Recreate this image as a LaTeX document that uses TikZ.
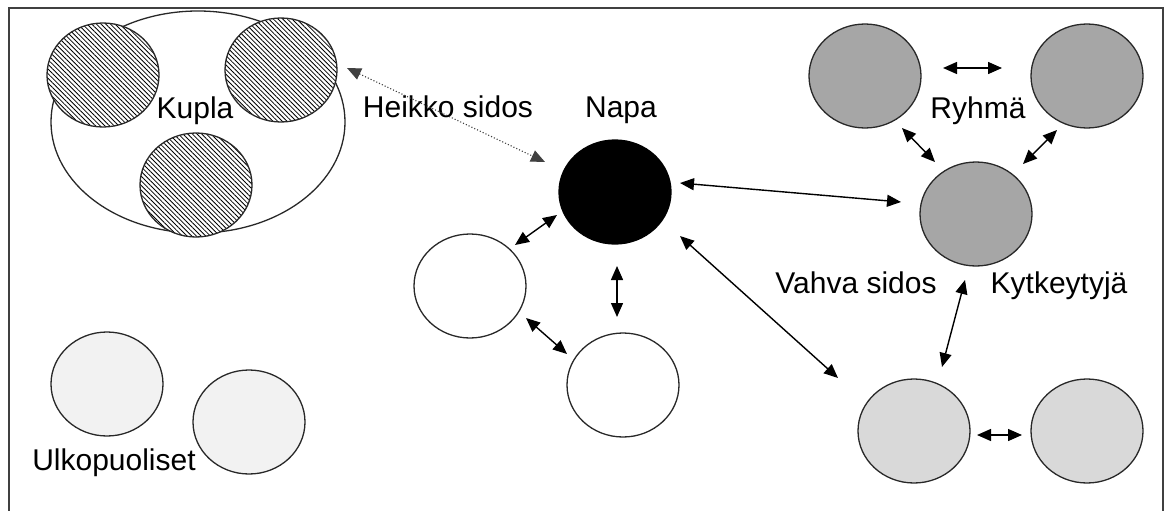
\documentclass[tikz,border=0pt]{standalone}
\usepackage{fontspec}
\setmainfont{Liberation Sans}
\usetikzlibrary{shapes.geometric,arrows.meta,patterns.meta,calc}
\definecolor{darkfill}{RGB}{166,166,166}
\definecolor{midfill}{RGB}{217,217,217}
\definecolor{lightfill}{RGB}{242,242,242}
\definecolor{edge}{RGB}{40,40,40}
\begin{document}
\begin{tikzpicture}[x=1pt,y=-1pt,
  circ/.style={ellipse, draw=edge, line width=1.3pt, inner sep=0pt, minimum width=112pt, minimum height=104pt},
  hatched/.style={circ, preaction={fill=white}, pattern={Lines[angle=-45,distance=3.3pt,line width=0.8pt]}},
  hub/.style={circ, fill=black, draw=black},
  plain/.style={circ, fill=white},
  groupc/.style={circ, fill=darkfill},
  linked/.style={circ, fill=midfill},
  outer/.style={circ, fill=lightfill},
  lbl/.style={font=\fontsize{30}{36}\selectfont, inner sep=0pt, anchor=base},
  biarrow/.style={line width=1.4pt, draw=black, {Triangle[length=14pt,width=12pt]}-{Triangle[length=14pt,width=12pt]}},
  weak/.style={line width=1.1pt, draw=black!75, dotted, {Triangle[length=14pt,width=12pt]}-{Triangle[length=14pt,width=12pt]}}
]
\useasboundingbox (0,0) rectangle (1167,511);
\clip (0,0) rectangle (1167,511);
\draw[line width=2pt, draw=black!75] (9,8) rectangle (1163,560);

% Kupla
\node[ellipse, draw=edge, line width=1.3pt, fill=white, inner sep=0pt, minimum width=294pt, minimum height=222pt] (bubble) at (198,122) {};
\node[hatched] (K1) at (103,75) {};
\node[hatched] (K2) at (281,70) {};
\node[hatched] (K3) at (196,185) {};

% Napa and neighbours
\node[hub] (N) at (615,192) {};
\node[plain] (W1) at (470,286) {};
\node[plain] (W2) at (623,385) {};

% Ryhma
\node[groupc] (G1) at (865,76) {};
\node[groupc] (G2) at (1087,76) {};
\node[groupc] (G3) at (976,214) {};

% Kytkeytyja
\node[linked] (L1) at (914,431) {};
\node[linked] (L2) at (1087,431) {};

% Ulkopuoliset
\node[outer] (U1) at (107,384) {};
\node[outer] (U2) at (249,422) {};

% labels
\node[lbl] (tKupla) at (195,118) {Kupla};
\node[lbl] (tHeikko) at (448,117) {Heikko sidos};
\node[lbl] (tNapa) at (621,117) {Napa};
\node[lbl] (tRyhma) at (978,118) {Ryhmä};
\node[lbl] (tVahva) at (856,293) {Vahva sidos};
\node[lbl] (tKytk) at (1059,293) {Kytkeytyjä};
\node[lbl] (tUlko) at (114,470) {Ulkopuoliset};

% connectors
\draw[weak] ($(K2)+(66,-2)$) -- ($(N)+(-70,-30)$);
\draw[biarrow] ($(N)+(65,-9)$) -- ($(G3)+(-75,-12)$);
\draw[biarrow] ($(N)+(-58,23)$) -- ($(W1)+(45,-41)$);
\draw[biarrow] ($(N)+(2,74)$) -- ($(W2)+(-6,-68)$);
\draw[biarrow] ($(W1)+(56,32)$) -- ($(W2)+(-56,-31)$);
\draw[biarrow] ($(N)+(65,44)$) -- ($(L1)+(-76,-53)$);
\draw[biarrow] ($(G3)+(-11,66)$) -- ($(L1)+(28,-64)$);
\draw[biarrow] ($(L1)+(63,4)$) -- ($(L2)+(-65,4)$);
\draw[biarrow] ($(G1)+(78,-8)$) -- ($(G2)+(-85,-8)$);
\draw[biarrow] ($(G1)+(37,52)$) -- ($(G3)+(-41,-52)$);
\draw[biarrow] ($(G2)+(-30,54)$) -- ($(G3)+(47,-50)$);
\end{tikzpicture}
\end{document}
